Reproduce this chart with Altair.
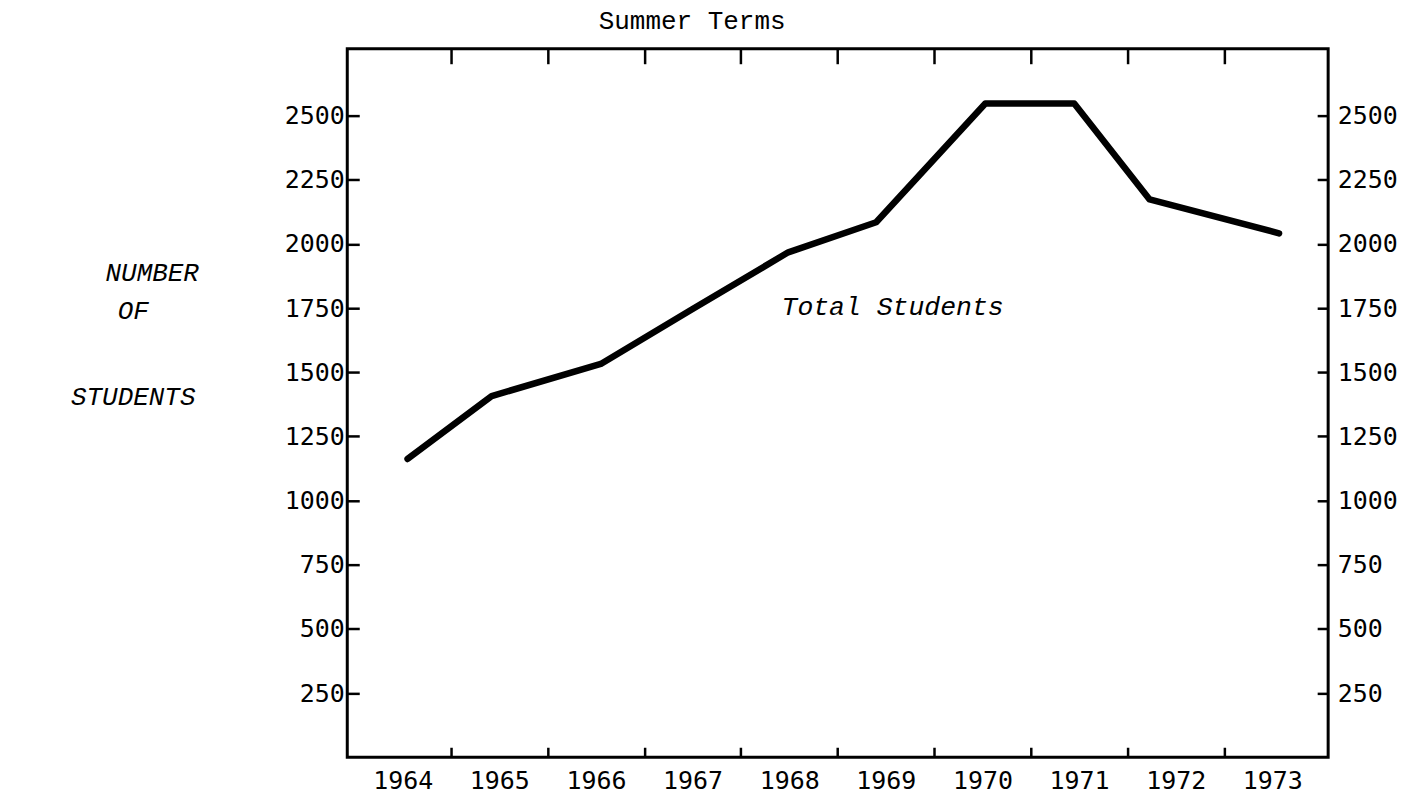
import altair as alt
import pandas as pd

# Data
years = [1964, 1965, 1966, 1967, 1968, 1969, 1970, 1971, 1972, 1973]
# horizontal position at which each year's point is drawn (in year units, as drawn by hand)
drawn_x = [1964.05, 1964.92, 1966.05, 1967.0, 1967.99, 1968.90, 1970.03, 1970.95, 1971.73, 1973.07]
students = [1162, 1407, 1532, 1746, 1967, 2084, 2547, 2547, 2173, 2041]

x_tick_years = [1964.5, 1965.5, 1966.5, 1967.5, 1968.5, 1969.5, 1970.5, 1971.5, 1972.5]
y_ticks = [250, 500, 750, 1000, 1250, 1500, 1750, 2000, 2250, 2500]

annot_text = ["Total Students"]
annot_x = [1969.07]
annot_y = [1753]

y_title_words = ["NUMBER", "OF", "STUDENTS"]

df = pd.DataFrame({"year": years, "x": drawn_x, "students": students})
ann = pd.DataFrame({"x": annot_x, "y": annot_y, "label": annot_text})

W, H = 983, 710
xdom = [1963.426, 1973.578]
ydom = [0, 2760]
half = W / (xdom[1] - xdom[0]) / 2

xscale = alt.Scale(domain=xdom, nice=False, zero=False)
yscale = alt.Scale(domain=ydom, nice=False, zero=False)

title_style = dict(titleAngle=0, titleAlign="center", titleBaseline="middle",
                   titleFont="Liberation Mono", titleFontStyle="italic",
                   titleFontWeight="normal", titleFontSize=26, titleColor="black")

line = alt.Chart(df).mark_line(
    color="black", strokeWidth=6.5, strokeCap="round", strokeJoin="round"
).encode(
    x=alt.X("x:Q", scale=xscale, axis=alt.Axis(
        orient="bottom", values=years, format="d", tickOffset=half, labelOffset=-half,
        tickSize=10, offset=-10, domain=False, grid=False, labelPadding=11,
        tickOpacity={"condition": {"test": "datum.value == 1973", "value": 0}, "value": 1},
        title=None)),
    y=alt.Y("students:Q", scale=yscale, axis=alt.Axis(
        orient="left", values=y_ticks, format="d", tickSize=12, offset=-12, domain=False,
        grid=False, labelPadding=3,
        title=y_title_words[0], titleX=-208, titleY=224, **title_style)),
    order="x:Q",
)

txt = alt.Chart(ann).mark_text(
    font="Liberation Mono", fontStyle="italic", fontSize=26.5, color="black",
    align="center", baseline="middle"
).encode(
    x=alt.X("x:Q", scale=xscale, axis=alt.Axis(
        orient="top", values=x_tick_years, labels=False, tickSize=15, offset=-15,
        domain=False, grid=False,
        title=y_title_words[1], titleX=-215, titleY=247, **title_style)),
    y=alt.Y("y:Q", scale=yscale, axis=alt.Axis(
        orient="right", values=y_ticks, format="d", tickSize=11, offset=-11, labelPadding=9,
        domain=False, grid=False,
        title=y_title_words[2], titleX=-1187, titleY=349, **title_style)),
    text="label:N",
)

chart = alt.layer(line, txt).resolve_axis(x="independent", y="independent").properties(
    width=W, height=H,
    autosize=alt.AutoSizeParams(type="none"),
    padding={"left": 340, "top": 40, "right": 70, "bottom": 36},
    title=alt.Title("Summer Terms", anchor="start", frame="group", dx=252, offset=14,
                    font="Liberation Mono", fontSize=26, fontWeight="normal", color="black"),
    background="white",
).configure_view(stroke="black", strokeWidth=3).configure_axis(
    labelFont="DejaVu Sans Mono", labelFontSize=25, labelColor="black",
    tickColor="black", tickWidth=2.5,
)

chart.save("out.html", embed_options={"renderer": "svg", "actions": False})
